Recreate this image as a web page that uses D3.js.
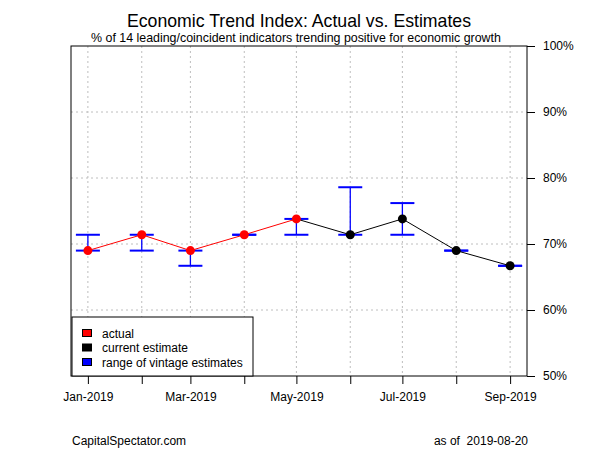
<!DOCTYPE html>
<html><head><meta charset="utf-8">
<script src="https://cdn.jsdelivr.net/npm/d3@7"></script>
<style>body{margin:0;background:#fff}svg{display:block}text{font-family:"Liberation Sans",Arial,sans-serif}</style>
</head><body><svg id="c" width="600" height="450"></svg>
<script>
const months = ["2019-01-01","2019-02-01","2019-03-01","2019-04-01","2019-05-01","2019-06-01","2019-07-01","2019-08-01","2019-09-01"];
const actual = [69.0, 71.4, 69.0, 71.4, 73.8, null, null, null, null];
const current = [null, null, null, null, 73.8, 71.4, 73.8, 69.0, 66.7];
const rangeLow = [69.0, 69.0, 66.7, 71.4, 71.4, 71.4, 71.4, 69.0, 66.7];
const rangeHigh = [71.4, 71.4, 69.0, 71.4, 73.8, 78.6, 76.2, 69.0, 66.7];
const yTicks = [50, 60, 70, 80, 90, 100];
const xLabelMonths = ["2019-01-01","2019-03-01","2019-05-01","2019-07-01","2019-09-01"];

const svg = d3.select("#c");
const L = 71, R = 527, T = 46, B = 376;
const parse = d3.utcParse("%Y-%m-%d");
const dates = months.map(parse);
const d0 = dates[0], d1 = dates[dates.length-1];
const pad = (d1 - d0) * 0.04;
const x = d3.scaleUtc().domain([new Date(+d0 - pad), new Date(+d1 + pad)]).range([L, R]);
const y = d3.scaleLinear().domain([50, 100]).range([B, T]);

// grid
const g = svg.append("g");
g.selectAll(".vg").data(dates).join("line")
  .attr("x1", d => x(d)).attr("x2", d => x(d)).attr("y1", T).attr("y2", B)
  .attr("stroke", "#bebebe").attr("stroke-dasharray", "2,3").attr("stroke-width", 1);
g.selectAll(".hg").data(yTicks.filter(v => v > 50 && v < 100)).join("line")
  .attr("x1", L).attr("x2", R).attr("y1", d => y(d)).attr("y2", d => y(d))
  .attr("stroke", "#bebebe").attr("stroke-dasharray", "2,3").attr("stroke-width", 1);

// axes
const yAxis = d3.axisRight(y).tickValues(yTicks).tickFormat(d => d + "%").tickSize(8).tickPadding(8);
const ya = svg.append("g").attr("transform", `translate(${R},0)`).call(yAxis);
ya.select(".domain").remove();
ya.selectAll("text").attr("font-size", 12).attr("fill", "#000").attr("font-family", "Liberation Sans, Arial, sans-serif");
ya.selectAll("line").attr("stroke", "#000");

const labSet = new Set(xLabelMonths);
const xAxis = d3.axisBottom(x).tickValues(dates)
  .tickFormat(d => labSet.has(d3.utcFormat("%Y-%m-%d")(d)) ? d3.utcFormat("%b-%Y")(d) : "")
  .tickSize(8).tickPadding(8);
const xa = svg.append("g").attr("transform", `translate(0,${B})`).call(xAxis);
xa.select(".domain").remove();
xa.selectAll("text").attr("font-size", 12).attr("fill", "#000").attr("font-family", "Liberation Sans, Arial, sans-serif");
xa.selectAll("line").attr("stroke", "#000");

// box
svg.append("rect").attr("x", L).attr("y", T).attr("width", R - L).attr("height", B - T)
  .attr("fill", "none").attr("stroke", "#000").attr("stroke-width", 1);

// error bars
const eb = svg.append("g");
dates.forEach((d, i) => {
  const cx = x(d);
  eb.append("line").attr("x1", cx).attr("x2", cx).attr("y1", y(rangeLow[i])).attr("y2", y(rangeHigh[i]))
    .attr("stroke", "#0000ff").attr("stroke-width", 1.3);
  [rangeLow[i], rangeHigh[i]].forEach(v => {
    eb.append("line").attr("x1", cx - 12).attr("x2", cx + 12).attr("y1", y(v)).attr("y2", y(v))
      .attr("stroke", "#0000ff").attr("stroke-width", 2);
  });
});

// lines
const line = d3.line().defined(d => d[1] != null).x(d => x(d[0])).y(d => y(d[1]));
svg.append("path").datum(dates.map((d, i) => [d, current[i]]))
  .attr("d", line).attr("fill", "none").attr("stroke", "#000").attr("stroke-width", 1);
svg.append("path").datum(dates.map((d, i) => [d, actual[i]]))
  .attr("d", line).attr("fill", "none").attr("stroke", "#ff0000").attr("stroke-width", 1);

// points
svg.selectAll(".pc").data(dates.map((d, i) => [d, current[i]]).filter(d => d[1] != null && actual[dates.indexOf(d[0])] == null))
  .join("circle").attr("cx", d => x(d[0])).attr("cy", d => y(d[1])).attr("r", 4.5).attr("fill", "#000");
svg.selectAll(".pa").data(dates.map((d, i) => [d, actual[i]]).filter(d => d[1] != null))
  .join("circle").attr("cx", d => x(d[0])).attr("cy", d => y(d[1])).attr("r", 4.5).attr("fill", "#ff0000");

// legend
const lg = svg.append("g");
lg.append("rect").attr("x", L + 1).attr("y", 317).attr("width", 181).attr("height", B - 317)
  .attr("fill", "#fff").attr("stroke", "#000").attr("stroke-width", 1);
const legItems = [["actual", "#ff0000"], ["current estimate", "#000000"], ["range of vintage estimates", "#0000ff"]];
legItems.forEach((it, i) => {
  const cy = 333 + i * 14.5;
  lg.append("rect").attr("x", 82.5).attr("y", cy - 3.5).attr("width", 9).attr("height", 7)
    .attr("fill", it[1]).attr("stroke", "#000").attr("stroke-width", 1);
  lg.append("text").attr("x", 102).attr("y", cy + 4.5).attr("font-size", 12).text(it[0]);
});

// titles
svg.append("text").attr("x", 299).attr("y", 27).attr("text-anchor", "middle").attr("font-size", 17.7)
  .text("Economic Trend Index: Actual vs. Estimates");
svg.append("text").attr("x", 296).attr("y", 42).attr("text-anchor", "middle").attr("font-size", 12.4)
  .text("% of 14 leading/coincident indicators trending positive for economic growth");
svg.append("text").attr("x", 72).attr("y", 445).attr("font-size", 12).text("CapitalSpectator.com");
svg.append("text").attr("x", 528).attr("y", 445).attr("text-anchor", "end").attr("font-size", 12).attr("xml:space", "preserve")
  .text("as of  2019-08-20");
</script></body></html>
